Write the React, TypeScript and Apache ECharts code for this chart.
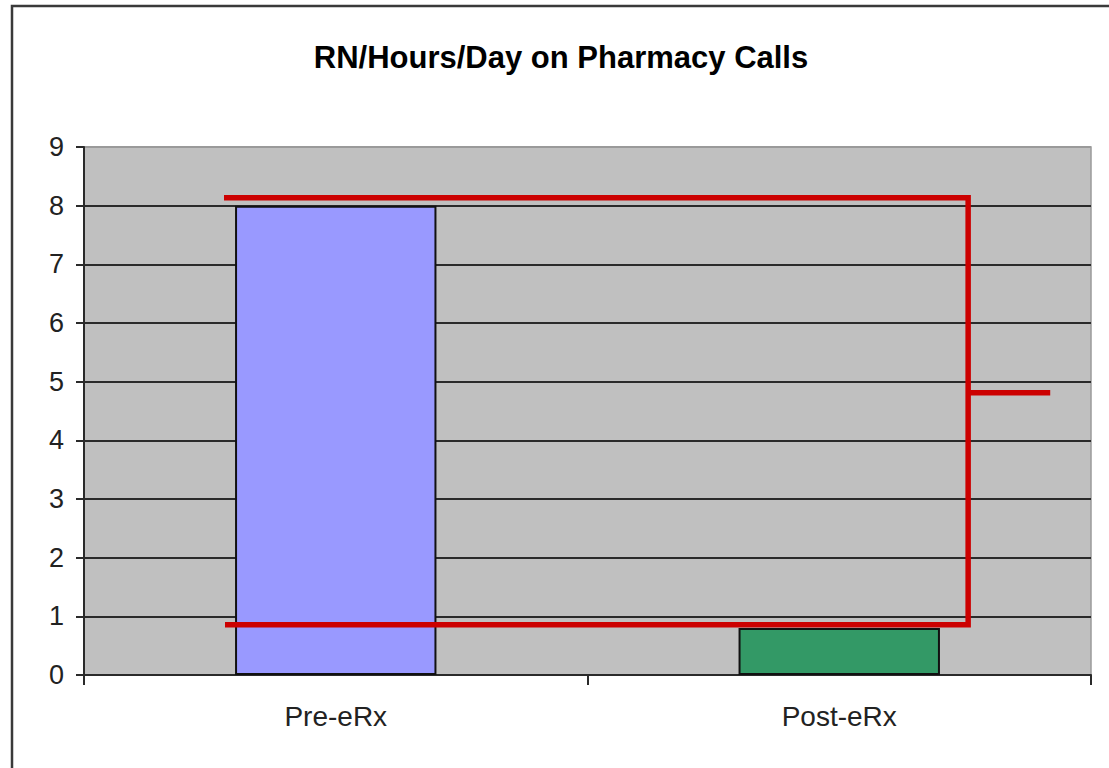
import React, { useEffect, useRef } from "react";
import * as echarts from "echarts";

const categories = ["Pre-eRx", "Post-eRx"];
const hoursPerDay = [8, 0.8];
const barColors = ["#9999FF", "#339966"];
const yTicks = { min: 0, max: 9, interval: 1 };
// bracket annotation, x in category units (0..2), y in hours
const bracketMain: [number, number][] = [
  [0.278, 8.135],
  [1.756, 8.135],
  [1.756, 0.857],
  [0.28, 0.857],
];
const bracketMid: [number, number][] = [
  [1.756, 4.81],
  [1.919, 4.81],
];

export default function App() {
  const ref = useRef<HTMLDivElement>(null);
  useEffect(() => {
    if (!ref.current) return;
    const chart = echarts.init(ref.current, null, { renderer: "svg" });
    const font = "'Liberation Sans', Arial, sans-serif";
    const splitColors = Array.from({ length: 10 }, (_, i) => (i === 9 ? "#9a9a9a" : "#2a2a2a"));
    chart.setOption({
      animation: false,
      backgroundColor: "#ffffff",
      title: {
        text: "RN/Hours/Day on Pharmacy Calls",
        left: 556,
        top: 37,
        textAlign: "center",
        textStyle: { fontFamily: font, fontSize: 31, fontWeight: "bold", color: "#000" },
      },
      graphic: [
        {
          type: "rect",
          shape: { x: 12, y: 6, width: 1200, height: 900 },
          style: { fill: "none", stroke: "#3a3a3a", lineWidth: 2.5 },
          z: 100,
        },
      ],
      grid: {
        left: 84,
        top: 147,
        right: 18,
        bottom: 93,
        show: true,
        backgroundColor: "#C0C0C0",
        borderColor: "#9a9a9a",
        borderWidth: 1.5,
      },
      xAxis: [
        {
          type: "category",
          data: categories,
          boundaryGap: true,
          axisLine: { lineStyle: { color: "#2a2a2a", width: 2 } },
          axisTick: { show: true, length: 10, lineStyle: { color: "#2a2a2a", width: 2 } },
          axisLabel: { fontFamily: font, fontSize: 28, color: "#222", margin: 27 },
          z: 5,
        },
        {
          type: "value",
          min: 0,
          max: 2,
          show: false,
          position: "bottom",
        },
      ],
      yAxis: {
        type: "value",
        min: yTicks.min,
        max: yTicks.max,
        interval: yTicks.interval,
        axisLine: { show: true, lineStyle: { color: "#2a2a2a", width: 2 } },
        axisTick: { show: true, length: 8, lineStyle: { color: "#2a2a2a", width: 2 } },
        axisLabel: { fontFamily: font, fontSize: 27, color: "#222", margin: 20 },
        splitLine: { show: true, lineStyle: { color: splitColors, width: 2 } },
        z: 5,
      },
      series: [
        {
          type: "bar",
          xAxisIndex: 0,
          barWidth: "40%",
          data: hoursPerDay.map((v, i) => ({
            value: v,
            itemStyle: { color: barColors[i], borderColor: "#111", borderWidth: 2 },
          })),
          z: 6,
        },
        {
          type: "line",
          xAxisIndex: 1,
          data: bracketMain,
          symbol: "none",
          lineStyle: { color: "#CC0000", width: 5.5, join: "miter", cap: "butt" },
          z: 10,
        },
        {
          type: "line",
          xAxisIndex: 1,
          data: bracketMid,
          symbol: "none",
          lineStyle: { color: "#CC0000", width: 5.5, cap: "butt" },
          z: 10,
        },
      ],
    });
    return () => chart.dispose();
  }, []);
  return (
    <div
      ref={ref}
      style={{ position: "fixed", left: 0, top: 0, width: 1109, height: 768 }}
    />
  );
}
